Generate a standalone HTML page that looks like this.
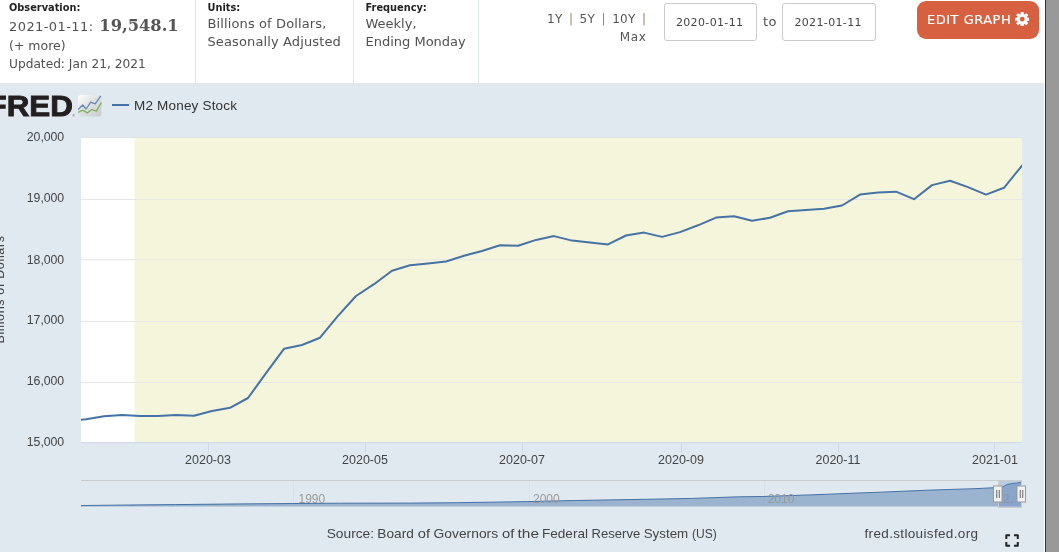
<!DOCTYPE html>
<html><head><meta charset="utf-8"><title>M2 Money Stock</title>
<style>
html,body{margin:0;padding:0;}
body{width:1059px;height:552px;overflow:hidden;background:#fff;position:relative;font-family:"DejaVu Sans","Liberation Sans",sans-serif;color:#555;}
.abs{position:absolute;white-space:nowrap;}
.lbl{font-weight:bold;font-size:9.8px;color:#222;line-height:12px;}
.val{font-size:13px;line-height:18px;color:#505050;}
.sep{position:absolute;top:0;height:83px;width:1px;background:#dfe6ee;}
.inp{position:absolute;top:3px;height:38px;width:93px;border:1px solid #ccc;border-radius:3px;box-sizing:border-box;font-size:11px;line-height:37.4px;text-align:center;color:#444;background:#fff;letter-spacing:0.36px;text-indent:-1.7px;}
.bar{color:#9a8467;}
</style></head><body>
<div class="abs lbl" style="left:9px;top:1.9px;font-size:9.8px;">Observation:</div>
<div class="abs val" style="left:9px;top:14px;line-height:24px;"><span style="letter-spacing:0.42px;">2021-01-11:</span><span style="font-family:'DejaVu Serif','Liberation Serif',serif;font-weight:bold;font-size:16.3px;color:#555;margin-left:5.8px;">19,548.1</span></div>
<div class="abs val" style="left:9px;top:36.5px;font-size:12.5px;">(+ more)</div>
<div class="abs val" style="left:9px;top:54.5px;font-size:12.2px;">Updated: Jan 21, 2021</div>
<div class="sep" style="left:195px;"></div>
<div class="abs lbl" style="left:207.5px;top:2.1px;">Units:</div>
<div class="abs val" style="left:207.5px;top:15px;letter-spacing:0.12px;">Billions of Dollars,<br>Seasonally Adjusted</div>
<div class="sep" style="left:353px;"></div>
<div class="abs lbl" style="left:365.5px;top:2.1px;">Frequency:</div>
<div class="abs val" style="left:365.5px;top:15px;">Weekly,<br>Ending Monday</div>
<div class="sep" style="left:478px;"></div>
<div class="abs val" style="left:520px;top:9.7px;width:126px;text-align:right;font-size:12px;line-height:18px;color:#555;"><span style="letter-spacing:0.3px;word-spacing:2.2px;">1Y <span class="bar">|</span> 5Y <span class="bar">|</span> 10Y <span class="bar" style="letter-spacing:0">|</span></span><br><span style="letter-spacing:0.7px;margin-right:-0.7px;">Max</span></div>
<div class="inp" style="left:664px;">2020-01-11</div>
<div class="abs val" style="left:763px;top:13px;letter-spacing:0.5px;">to</div>
<div class="inp" style="left:782px;width:94px;">2021-01-11</div>
<div class="abs" style="left:917px;top:1px;width:122px;height:38px;border-radius:9px;background:#d6603f;color:#fff;font-size:13px;line-height:38.4px;box-sizing:border-box;padding-left:10px;letter-spacing:0.5px;-webkit-text-stroke:0.15px #fff;">EDIT GRAPH<svg width="14.4" height="14.4" viewBox="0 0 14 14" style="vertical-align:-2.3px;margin-left:3.5px"><g fill="#fff"><circle cx="7" cy="7" r="5.3"/><rect x="5.5" y="0" width="3" height="14" rx="0.5"/><rect x="5.5" y="0" width="3" height="14" rx="0.5" transform="rotate(45 7 7)"/><rect x="5.5" y="0" width="3" height="14" rx="0.5" transform="rotate(90 7 7)"/><rect x="5.5" y="0" width="3" height="14" rx="0.5" transform="rotate(135 7 7)"/></g><circle cx="7" cy="7" r="2.3" fill="#d6603f"/></svg></div>

<div class="abs" style="left:0;top:83px;width:1044px;height:469px;background:#e1e9f0;"></div>
<div class="abs" style="left:1045px;top:0;width:1px;height:552px;background:#333;"></div>
<div class="abs" style="left:1046px;top:0;width:13px;height:552px;background:#999;"></div>

<svg class="abs" style="left:0;top:0;" width="1044" height="552" viewBox="0 0 1044 552" font-family="'Liberation Sans',sans-serif">
<defs><clipPath id="cp"><rect x="81" y="138" width="941" height="304"/></clipPath></defs>
<rect x="81" y="138" width="941" height="304" fill="#fff"/>
<rect x="134.5" y="138" width="887.5" height="304" fill="#f5f5dc"/>
<line x1="81" x2="1022" y1="137.5" y2="137.5" stroke="#dfe3ea" stroke-width="1"/>
<g stroke="#e6e6e6" stroke-width="1">
<line x1="81" x2="1022" y1="199.5" y2="199.5"/>
<line x1="81" x2="1022" y1="259.8" y2="259.8"/>
<line x1="81" x2="1022" y1="321.5" y2="321.5"/>
<line x1="81" x2="1022" y1="382.5" y2="382.5"/>
</g>
<line x1="81" x2="1022" y1="442.6" y2="442.6" stroke="#d3daea" stroke-width="1.3"/>
<g stroke="#d3dbea" stroke-width="1">
<line x1="208.5" x2="208.5" y1="442" y2="453"/>
<line x1="365.5" x2="365.5" y1="442" y2="453"/>
<line x1="522.5" x2="522.5" y1="442" y2="453"/>
<line x1="681.5" x2="681.5" y1="442" y2="453"/>
<line x1="838.5" x2="838.5" y1="442" y2="453"/>
<line x1="994.5" x2="994.5" y1="442" y2="453"/>
</g>
<path d="M68.0 421.0 L86.0 419.3 L104.0 416.3 L122.0 414.9 L140.0 416.1 L158.0 415.9 L176.0 415.1 L194.0 415.7 L212.0 411.0 L230.0 407.8 L248.0 398.0 L266.0 373.1 L284.0 348.8 L302.0 345.0 L320.0 337.7 L338.0 315.8 L356.0 296.0 L374.0 284.2 L392.0 270.8 L410.0 265.3 L428.0 263.5 L446.0 261.5 L464.0 255.8 L482.0 251.0 L500.0 245.2 L518.0 245.8 L536.0 239.9 L554.0 236.1 L572.0 240.6 L590.0 242.6 L608.0 244.4 L626.0 235.5 L644.0 232.6 L662.0 236.9 L680.0 232.1 L698.0 225.3 L716.0 217.6 L734.0 216.3 L752.0 220.8 L770.0 217.8 L788.0 211.3 L806.0 209.9 L824.0 208.7 L842.0 205.5 L860.0 194.6 L878.0 192.4 L896.0 191.7 L914.0 199.2 L932.0 185.1 L950.0 180.8 L968.0 187.1 L986.0 194.6 L1004.0 187.8 L1022.0 165.6" fill="none" stroke="#4572a7" stroke-width="2" stroke-linejoin="round" stroke-linecap="round" clip-path="url(#cp)"/>
<g font-size="12.3" fill="#444" text-anchor="end" letter-spacing="-0.08">
<text x="64" y="141.3">20,000</text>
<text x="64" y="202.3">19,000</text>
<text x="64" y="263.6">18,000</text>
<text x="64" y="324.2">17,000</text>
<text x="64" y="385.2">16,000</text>
<text x="64" y="446">15,000</text>
</g>
<g font-size="12.5" fill="#444" text-anchor="middle">
<text x="208" y="464.3">2020-03</text>
<text x="365" y="464.3">2020-05</text>
<text x="522" y="464.3">2020-07</text>
<text x="681" y="464.3">2020-09</text>
<text x="838" y="464.3">2020-11</text>
<text x="995" y="464.3">2021-01</text>
</g>
<text transform="translate(3.8,343.6) rotate(-90)" font-size="12.5" fill="#444" textLength="107.6" lengthAdjust="spacing">Billions of Dollars</text>
<!-- legend -->
<line x1="112" x2="129" y1="105" y2="105" stroke="#4572a7" stroke-width="2"/>
<text x="134" y="110" font-size="13.5" fill="#333" textLength="103" lengthAdjust="spacing">M2 Money Stock</text>
<!-- FRED logo -->
<text x="-12.5" y="116" font-size="29.5" font-weight="bold" fill="#231f20" stroke="#231f20" stroke-width="0.9" stroke-linejoin="miter" textLength="85.5" lengthAdjust="spacingAndGlyphs">FRED</text>
<text x="72.5" y="116.5" font-size="3" fill="#231f20">®</text>
<defs><linearGradient id="ig" x1="0" y1="0" x2="1" y2="1"><stop offset="0" stop-color="#ffffff"/><stop offset="0.4" stop-color="#e2e4e6"/><stop offset="1" stop-color="#c9cccf"/></linearGradient></defs>
<rect x="78" y="95" width="23.5" height="21.5" rx="2.5" fill="url(#ig)"/>
<path d="M78.2 109.5 L82.7 105 L86.1 109 L90.7 102.2 L95.2 103.9 L100.8 95.9" fill="none" stroke="#6289ad" stroke-width="1.3" stroke-linejoin="round"/>
<path d="M78.2 112.4 L82.7 110.1 L87.3 112.9 L91.8 109.5 L96.3 111.2 L101.4 102.7" fill="none" stroke="#7fae5b" stroke-width="1.3" stroke-linejoin="round"/>
<!-- navigator -->
<line x1="81" x2="1022" y1="480.5" y2="480.5" stroke="#ccc" stroke-width="1"/>
<g stroke="#dce1e8" stroke-width="1">
<line x1="293.5" x2="293.5" y1="481" y2="506"/>
<line x1="529.5" x2="529.5" y1="481" y2="506"/>
<line x1="764.5" x2="764.5" y1="481" y2="506"/>
<line x1="998.5" x2="998.5" y1="481" y2="506"/>
</g>
<clipPath id="ncp"><rect x="81" y="478" width="941" height="30"/></clipPath>
<path d="M77.5 505.6 L128.3 505.0 L175.3 504.6 L222.3 504.1 L292.8 503.5 L339.8 503.2 L410.3 503.1 L457.3 502.7 L527.8 501.6 L574.8 500.5 L645.3 499.3 L692.3 498.4 L739.3 496.8 L762.8 496.5 L809.8 494.9 L880.3 492.2 L927.3 490.2 L974.3 488.7 L998.5 487.5 L1002.5 487.1 L1007.2 484.4 L1011.9 483.6 L1017.8 482.9 L1022.0 482.0 L1022 506.5 L81 506.5 Z" fill="#4572a7" fill-opacity="0.45" clip-path="url(#ncp)"/>
<path d="M77.5 505.6 L128.3 505.0 L175.3 504.6 L222.3 504.1 L292.8 503.5 L339.8 503.2 L410.3 503.1 L457.3 502.7 L527.8 501.6 L574.8 500.5 L645.3 499.3 L692.3 498.4 L739.3 496.8 L762.8 496.5 L809.8 494.9 L880.3 492.2 L927.3 490.2 L974.3 488.7 L998.5 487.5 L1002.5 487.1 L1007.2 484.4 L1011.9 483.6 L1017.8 482.9 L1022.0 482.0" fill="none" stroke="#4572a7" stroke-width="1" clip-path="url(#ncp)"/>
<g font-size="12" fill="#999">
<text x="298.5" y="503">1990</text>
<text x="533" y="503">2000</text>
<text x="767.7" y="503">2010</text>
<text x="1003" y="503">2…</text>
</g>
<rect x="998" y="481" width="24" height="26" fill="#6685c2" fill-opacity="0.3"/>
<path d="M998.5 481 L998.5 507.5 L1021.5 507.5 L1021.5 481" stroke="#ccc" fill="none"/>
<g stroke="#999" stroke-width="1" fill="#f2f2f2">
<rect x="993.5" y="486" width="8.5" height="16"/>
<path d="M996.75 490 V498 M999.25 490 V498" fill="none" stroke="#555" stroke-width="0.9"/>
<rect x="1017" y="486" width="8.5" height="16"/>
<path d="M1020.25 490 V498 M1022.75 490 V498" fill="none" stroke="#555" stroke-width="0.9"/>
</g>
<g font-size="13.5" fill="#444"><text x="326.7" y="538" textLength="47.4" lengthAdjust="spacingAndGlyphs">Source: </text><text x="377.3" y="538" textLength="36.5" lengthAdjust="spacingAndGlyphs">Board </text><text x="417.8" y="538" textLength="12.3" lengthAdjust="spacingAndGlyphs">of </text><text x="433.6" y="538" textLength="64.5" lengthAdjust="spacingAndGlyphs">Governors </text><text x="502.0" y="538" textLength="12.3" lengthAdjust="spacingAndGlyphs">of </text><text x="517.5" y="538" textLength="21.5" lengthAdjust="spacingAndGlyphs">the </text><text x="542.0" y="538" textLength="46.0" lengthAdjust="spacingAndGlyphs">Federal </text><text x="591.6" y="538" textLength="48.6" lengthAdjust="spacingAndGlyphs">Reserve </text><text x="643.7" y="538" textLength="44.5" lengthAdjust="spacingAndGlyphs">System </text><text x="692.1" y="538" textLength="24.8" lengthAdjust="spacingAndGlyphs">(US)</text></g>
<text x="864.5" y="538" font-size="13.5" fill="#444" textLength="113.5" lengthAdjust="spacing">fred.stlouisfed.org</text>
<path d="M1006.3 539 V535.2 H1010 M1014 535.2 H1017.8 V539 M1017.8 542 V545.7 H1014 M1010 545.7 H1006.3 V542" fill="none" stroke="#222" stroke-width="2" stroke-linejoin="round"/>
</svg>
</body></html>
